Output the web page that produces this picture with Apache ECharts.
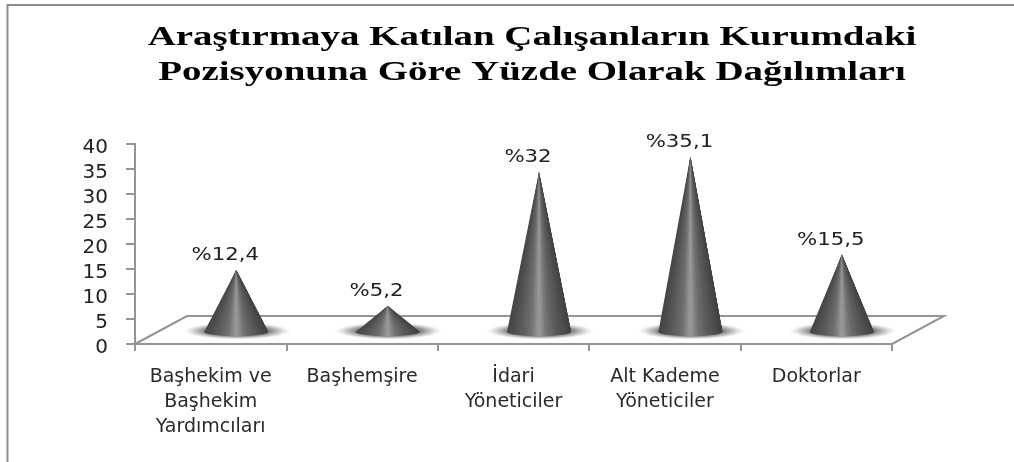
<!DOCTYPE html>
<html>
<head>
<meta charset="utf-8">
<style>
  html, body { margin: 0; padding: 0; background: #fff; }
  #chart { width: 1014px; height: 462px; }
</style>
<script src="https://cdn.jsdelivr.net/npm/echarts@6/dist/echarts.min.js"></script>
</head>
<body>
<div id="chart"></div>
<script>
var categories = ["Başhekim ve\nBaşhekim\nYardımcıları", "Başhemşire", "İdari\nYöneticiler", "Alt Kademe\nYöneticiler", "Doktorlar"];
var values = [12.4, 5.2, 32, 35.1, 15.5];
var valueLabels = ["%12,4", "%5,2", "%32", "%35,1", "%15,5"];
var titleLines = "Araştırmaya Katılan Çalışanların Kurumdaki\nPozisyonuna Göre Yüzde Olarak Dağılımları";

var chart = echarts.init(document.getElementById("chart"));

// depth of the fake 3d floor, in px
var depthX = 25.5;
var depthY = 12;
var floorBackX = 52;
var floorBackY = 28;
var axisColor = "#959595";
var coneShades = ["#444444", "#505050", "#5e5e5e", "#707070", "#9c9c9c", "#707070", "#5c5c5c", "#4e4e4e", "#404040"];

function coneItem(params, api) {
  var idx = api.value(0);
  var top = api.coord([idx, api.value(1)]);
  var base = api.coord([idx, 0]);
  var cx = top[0] + depthX;
  var topY = top[1] - depthY;
  var baseY = base[1] - depthY;
  var r = 32;
  var stops = coneShades.map(function (c, i) {
    return { offset: i / (coneShades.length - 1), color: c };
  });
  var shadow = new echarts.graphic.RadialGradient(0.5, 0.5, 0.5, [
    { offset: 0, color: "rgba(60,60,60,0.9)" },
    { offset: 0.6, color: "rgba(80,80,80,0.7)" },
    { offset: 0.8, color: "rgba(130,130,130,0.4)" },
    { offset: 1, color: "rgba(200,200,200,0)" }
  ]);
  var children = [
    {
      type: "circle", x: cx + 1, y: baseY - 1, scaleY: 0.16,
      shape: { cx: 0, cy: 0, r: 54 }, style: { fill: shadow }
    },
    {
      type: "ellipse", shape: { cx: cx, cy: baseY, rx: r, ry: 4 },
      style: { fill: new echarts.graphic.LinearGradient(0, 0, 1, 0, stops) }
    }
  ];
  // slices overlap the next few so no gaps show, shading narrows toward the tip
  var n = 24;
  var step = (2 * r) / n;
  for (var i = 0; i < n; i++) {
    var x0 = cx - r + step * i;
    children.push({
      type: "polygon",
      shape: { points: [[cx, topY], [Math.min(x0 + step * 6, cx + r), baseY], [x0, baseY]] },
      style: { fill: echarts.color.lerp((i + 0.5) / n, coneShades) }
    });
  }
  children.push({
    type: "text", x: cx - 11, y: topY - 14, scaleX: 1.25,
    style: {
      x: 0, y: 0, text: valueLabels[idx], fill: "#222222",
      font: "17px 'DejaVu Sans'", align: "center", verticalAlign: "middle"
    }
  });
  return { type: "group", children: children };
}

function floorItem(params, api) {
  var half = api.size([1, 0])[0] / 2;
  var a = api.coord([0, 0]);
  var b = api.coord([categories.length - 1, 0]);
  a[0] -= half;
  b[0] += half;
  return {
    type: "polyline",
    shape: {
      points: [a, [a[0] + floorBackX, a[1] - floorBackY], [b[0] + floorBackX, b[1] - floorBackY], b]
    },
    style: { stroke: axisColor, lineWidth: 2, fill: null }
  };
}

chart.setOption({
  animation: false,
  backgroundColor: "#ffffff",
  graphic: [
    {
      type: "polyline", silent: true,
      shape: { points: [[7.5, 462], [7.5, 5], [1014, 5]] },
      style: { stroke: "#8c8c8c", lineWidth: 2, fill: null }
    },
    {
      type: "text", x: 532, y: 20, scaleX: 1.39,
      style: {
        text: titleLines, fill: "#000000", align: "center", lineHeight: 35,
        font: "bold 28px 'Liberation Serif'"
      }
    }
  ],
  grid: { left: 135, right: 122, top: 144, bottom: 118 },
  xAxis: {
    type: "category",
    data: categories,
    axisLine: { lineStyle: { color: axisColor, width: 2 } },
    axisTick: { show: true, length: 7, lineStyle: { color: axisColor, width: 2 } },
    axisLabel: {
      interval: 0, color: "#2a2a2a", fontFamily: "DejaVu Sans", fontSize: 19,
      lineHeight: 25, margin: 21
    }
  },
  yAxis: {
    type: "value",
    min: 0,
    max: 40,
    interval: 5,
    splitLine: { show: false },
    axisLine: { show: true, lineStyle: { color: axisColor, width: 2 } },
    axisTick: { show: true, length: 9, lineStyle: { color: axisColor, width: 2 } },
    axisLabel: {
      color: "#222222", fontFamily: "DejaVu Sans", fontSize: 20, margin: 27,
      verticalAlign: "top", lineHeight: 8
    }
  },
  series: [
    {
      type: "custom", renderItem: floorItem, silent: true, z: 1,
      data: [[0, 0]], encode: { x: 0, y: 1 }
    },
    {
      type: "custom", renderItem: coneItem, z: 2,
      data: values.map(function (v, i) { return [i, v]; }),
      encode: { x: 0, y: 1 }
    }
  ]
});
</script>
</body>
</html>
